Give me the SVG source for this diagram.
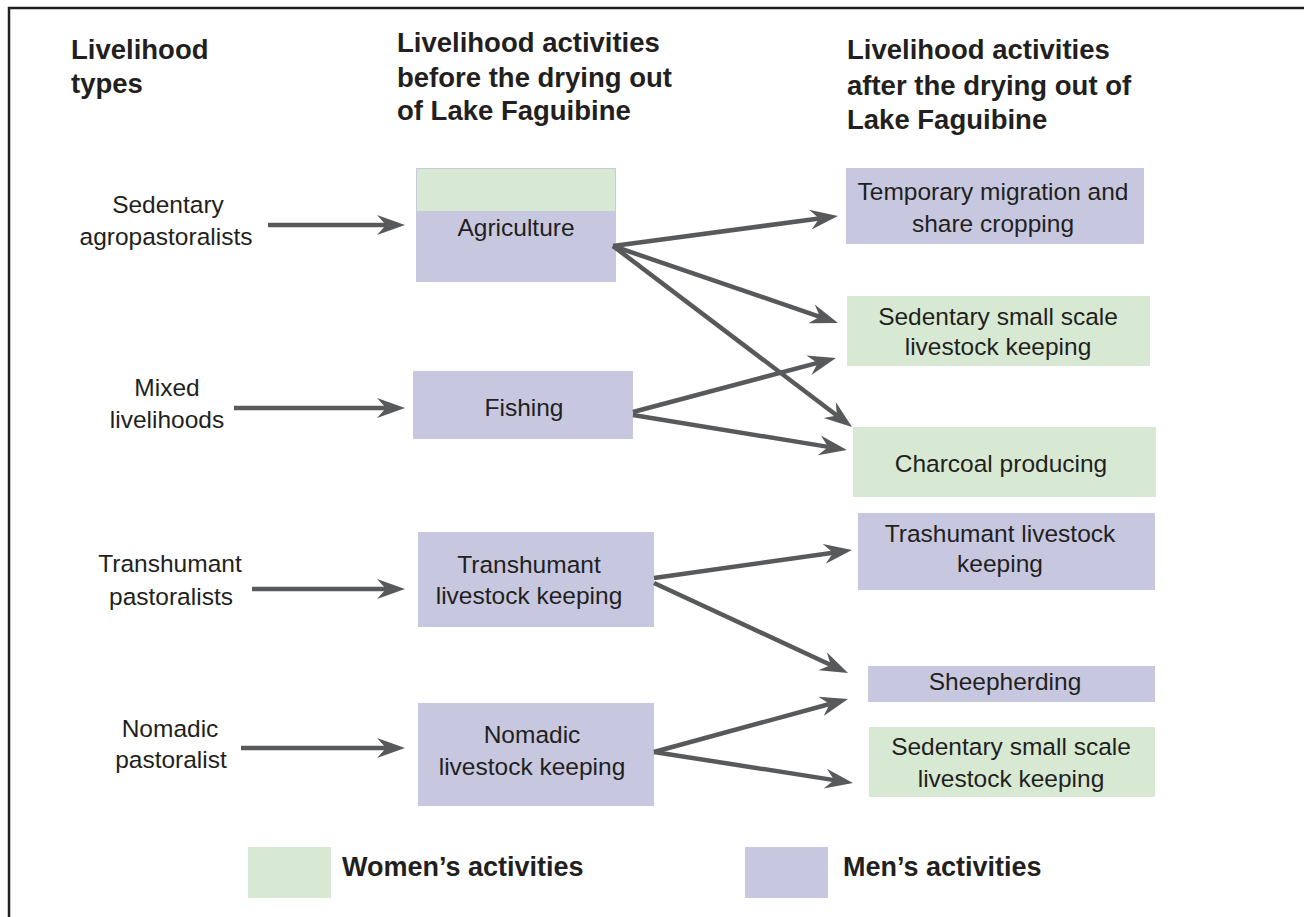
<svg xmlns="http://www.w3.org/2000/svg" width="1304" height="917" viewBox="0 0 1304 917">
<style>
text{font-family:"Liberation Sans",Arial,sans-serif;fill:#231f20;}
.h{font-size:27.5px;font-weight:bold;}
.t{font-size:24.5px;}
.c{text-anchor:middle;}
.lg{font-size:27px;font-weight:bold;}
.m{fill:#c7c8e0;}
.w{fill:#d7e9d3;}
.cn line{stroke:#58595b;stroke-width:4.5;marker-end:url(#ah);}
</style>
<defs>
<marker id="ah" markerUnits="userSpaceOnUse" markerWidth="30" markerHeight="24" viewBox="0 -12 30 24" refX="9" refY="0" orient="auto">
<path d="M0,-10 L28,0 L0,10 L9,0 Z" fill="#58595b"/>
</marker>
</defs>
<rect width="1304" height="917" fill="#ffffff"/>
<rect x="9" y="8" width="1400" height="1000" fill="none" stroke="#231f20" stroke-width="2.5"/>

<g id="headers">
<text class="h" x="71" y="59">Livelihood</text>
<text class="h" x="71" y="93">types</text>
<text class="h" x="397" y="52">Livelihood activities</text>
<text class="h" x="397" y="87">before the drying out</text>
<text class="h" x="397" y="120">of Lake Faguibine</text>
<text class="h" x="847" y="59">Livelihood activities</text>
<text class="h" x="847" y="95">after the drying out of</text>
<text class="h" x="847" y="129">Lake Faguibine</text>
</g>

<g id="type-sedentary">
<text class="t c" x="168" y="213">Sedentary</text>
<text class="t c" x="166" y="245">agropastoralists</text>
</g>
<g id="type-mixed">
<text class="t c" x="167" y="396">Mixed</text>
<text class="t c" x="167" y="428">livelihoods</text>
</g>
<g id="type-transhumant">
<text class="t c" x="170" y="572">Transhumant</text>
<text class="t c" x="171" y="605">pastoralists</text>
</g>
<g id="type-nomadic">
<text class="t c" x="170" y="737">Nomadic</text>
<text class="t c" x="171" y="768">pastoralist</text>
</g>

<g id="agriculture">
<rect class="m" x="416" y="168" width="200" height="114"/>
<rect class="w" x="416.5" y="168.5" width="199" height="43" stroke="#c7c8e0" stroke-width="1"/>
<text class="t c" x="516" y="236">Agriculture</text>
</g>
<g id="fishing">
<rect class="m" x="413" y="371" width="220" height="68"/>
<text class="t c" x="524" y="416">Fishing</text>
</g>
<g id="transhumant-keeping">
<rect class="m" x="418" y="532" width="236" height="95"/>
<text class="t c" x="529" y="573">Transhumant</text>
<text class="t c" x="529" y="604">livestock keeping</text>
</g>
<g id="nomadic-keeping">
<rect class="m" x="418" y="703" width="236" height="103"/>
<text class="t c" x="532" y="743">Nomadic</text>
<text class="t c" x="532" y="775">livestock keeping</text>
</g>

<g id="temporary-migration">
<rect class="m" x="846" y="168" width="298" height="76"/>
<text class="t c" x="993" y="200">Temporary migration and</text>
<text class="t c" x="993" y="232">share cropping</text>
</g>
<g id="sedentary-small-1">
<rect class="w" x="847" y="296" width="303" height="70"/>
<text class="t c" x="998" y="325">Sedentary small scale</text>
<text class="t c" x="998" y="355">livestock keeping</text>
</g>
<g id="charcoal">
<rect class="w" x="853" y="427" width="303" height="70"/>
<text class="t c" x="1001" y="472">Charcoal producing</text>
</g>
<g id="trashumant-after">
<rect class="m" x="858" y="513" width="297" height="77"/>
<text class="t c" x="1000" y="542">Trashumant livestock</text>
<text class="t c" x="1000" y="572">keeping</text>
</g>
<g id="sheepherding">
<rect class="m" x="868" y="666" width="287" height="36"/>
<text class="t c" x="1005" y="690">Sheepherding</text>
</g>
<g id="sedentary-small-2">
<rect class="w" x="869" y="727" width="286" height="70"/>
<text class="t c" x="1011" y="755">Sedentary small scale</text>
<text class="t c" x="1011" y="787">livestock keeping</text>
</g>

<g id="connectors" class="cn">
<line x1="268" y1="225" x2="386" y2="225"/>
<line x1="234" y1="408" x2="386" y2="408"/>
<line x1="252" y1="589" x2="386" y2="589"/>
<line x1="241" y1="748" x2="386" y2="748"/>
<line x1="613" y1="246" x2="819.2" y2="218.5"/>
<line x1="613" y1="246" x2="820" y2="316.8"/>
<line x1="613" y1="246" x2="836.9" y2="415.5"/>
<line x1="633" y1="412" x2="817.6" y2="362.9"/>
<line x1="633" y1="415" x2="828.2" y2="446.9"/>
<line x1="654" y1="578" x2="833.2" y2="552.7"/>
<line x1="654" y1="583" x2="830.8" y2="665"/>
<line x1="654" y1="752" x2="829.7" y2="704"/>
<line x1="654" y1="752" x2="834.2" y2="780.1"/>
</g>

<g id="legend">
<rect class="w" x="248" y="847" width="83" height="51"/>
<text class="lg" x="342" y="876">Women’s activities</text>
<rect class="m" x="745" y="847" width="83" height="51"/>
<text class="lg" x="843" y="876">Men’s activities</text>
</g>
</svg>
